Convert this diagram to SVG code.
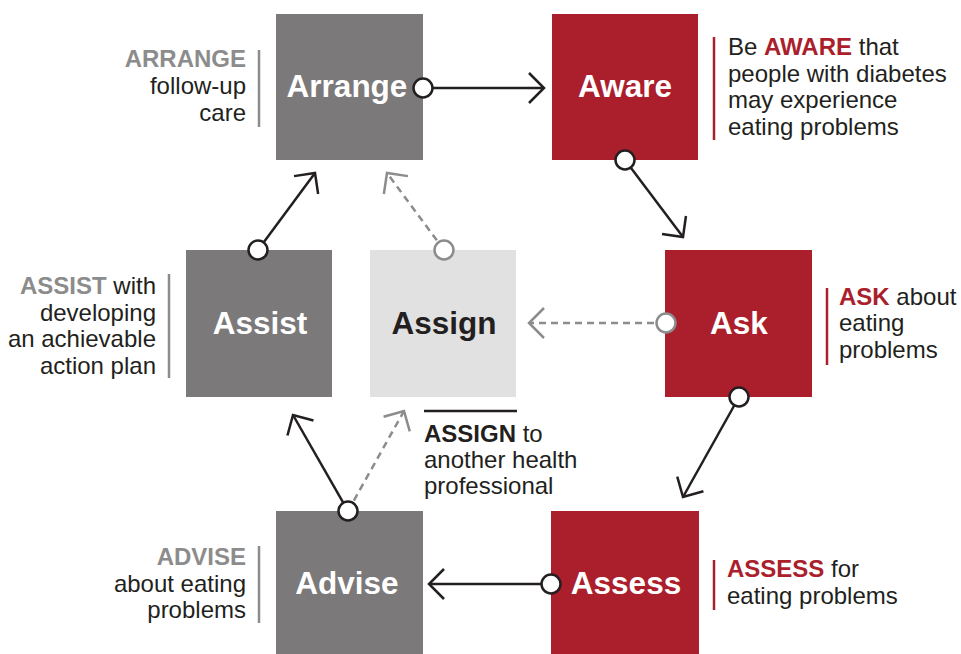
<svg xmlns="http://www.w3.org/2000/svg" width="961" height="654" viewBox="0 0 961 654">
<defs>
<style>
.box-dark{fill:#7b797a}
.box-red{fill:#ab1e2c}
.box-light{fill:#e1e1e1}
.lbl{font-family:"Liberation Sans",Arial,sans-serif;font-weight:bold;font-size:31.5px;text-anchor:middle;fill:#ffffff}
.lbl-dark{fill:#231f20}
.ann{font-family:"Liberation Sans",Arial,sans-serif;font-size:24px;fill:#231f20}
.end{text-anchor:end}
.b-gray{font-weight:bold;fill:#8c8c8c}
.b-red{font-weight:bold;fill:#ab1e2c}
.b-blk{font-weight:bold;fill:#231f20}
.sep-gray{stroke:#8c8c8c;stroke-width:2.5}
.sep-red{stroke:#ab1e2c;stroke-width:2.5}
.solid{stroke:#231f20;stroke-width:2.5;fill:none;marker-end:url(#ah)}
.dash{stroke:#8c8c8c;stroke-width:2.5;fill:none;stroke-dasharray:7 5;marker-end:url(#ahg)}
.dot{fill:#ffffff;stroke:#231f20;stroke-width:2.5}
.dotg{fill:#ffffff;stroke:#8c8c8c;stroke-width:2.5}
</style>
<marker id="ah" markerUnits="userSpaceOnUse" viewBox="-20 -20 24 40" markerWidth="24" markerHeight="40" refX="0" refY="0" orient="auto">
<path d="M-15,-15 L0,0 L-15,15" fill="none" stroke="#231f20" stroke-width="2.5"/>
</marker>
<marker id="ahg" markerUnits="userSpaceOnUse" viewBox="-20 -20 24 40" markerWidth="24" markerHeight="40" refX="0" refY="0" orient="auto">
<path d="M-15,-15 L0,0 L-15,15" fill="none" stroke="#8c8c8c" stroke-width="2.5"/>
</marker>
</defs>
<rect width="961" height="654" fill="#ffffff"/>

<g id="node-arrange">
<rect class="box-dark" x="276" y="14" width="147" height="146"/>
<text class="lbl" x="347" y="97">Arrange</text>
</g>
<g id="node-aware">
<rect class="box-red" x="552" y="14" width="146" height="146"/>
<text class="lbl" x="625" y="97">Aware</text>
</g>
<g id="node-assist">
<rect class="box-dark" x="186" y="250" width="146" height="147"/>
<text class="lbl" x="260" y="334">Assist</text>
</g>
<g id="node-assign">
<rect class="box-light" x="370" y="250" width="146" height="147"/>
<text class="lbl lbl-dark" x="444" y="334">Assign</text>
</g>
<g id="node-ask">
<rect class="box-red" x="665" y="250" width="147" height="147"/>
<text class="lbl" x="739" y="334">Ask</text>
</g>
<g id="node-advise">
<rect class="box-dark" x="276" y="511" width="147" height="146"/>
<text class="lbl" x="347" y="594">Advise</text>
</g>
<g id="node-assess">
<rect class="box-red" x="551" y="511" width="148" height="146"/>
<text class="lbl" x="626" y="594">Assess</text>
</g>

<g id="annotations">
<line class="sep-gray" x1="259" y1="50" x2="259" y2="127"/>
<text class="ann end" x="246" y="67"><tspan class="b-gray">ARRANGE</tspan></text>
<text class="ann end" x="246" y="94">follow-up</text>
<text class="ann end" x="246" y="121">care</text>

<line class="sep-red" x1="714" y1="37" x2="714" y2="140"/>
<text class="ann" x="728" y="55">Be <tspan class="b-red">AWARE</tspan> that</text>
<text class="ann" x="728" y="81.5">people with diabetes</text>
<text class="ann" x="728" y="108">may experience</text>
<text class="ann" x="728" y="134.5">eating problems</text>

<line class="sep-gray" x1="169" y1="274" x2="169" y2="378"/>
<text class="ann end" x="156" y="294"><tspan class="b-gray">ASSIST</tspan> with</text>
<text class="ann end" x="156" y="321">developing</text>
<text class="ann end" x="156" y="347">an achievable</text>
<text class="ann end" x="156" y="374">action plan</text>

<line class="sep-red" x1="827" y1="288" x2="827" y2="365"/>
<text class="ann" x="839" y="305"><tspan class="b-red">ASK</tspan> about</text>
<text class="ann" x="839" y="331">eating</text>
<text class="ann" x="839" y="358">problems</text>

<line x1="424" y1="411" x2="517" y2="411" stroke="#231f20" stroke-width="2.5"/>
<text class="ann" x="424" y="442"><tspan class="b-blk">ASSIGN</tspan> to</text>
<text class="ann" x="424" y="468">another health</text>
<text class="ann" x="424" y="494">professional</text>

<line class="sep-gray" x1="259" y1="546" x2="259" y2="623"/>
<text class="ann end" x="246" y="565"><tspan class="b-gray">ADVISE</tspan></text>
<text class="ann end" x="246" y="592">about eating</text>
<text class="ann end" x="246" y="618">problems</text>

<line class="sep-red" x1="714" y1="560" x2="714" y2="610"/>
<text class="ann" x="727" y="577"><tspan class="b-red">ASSESS</tspan> for</text>
<text class="ann" x="727" y="604">eating problems</text>
</g>

<g id="connectors">
<line class="solid" x1="423" y1="88" x2="544" y2="88"/>
<line class="solid" x1="625" y1="160" x2="683" y2="237"/>
<line class="solid" x1="739" y1="397" x2="683" y2="497"/>
<line class="solid" x1="551" y1="584" x2="429" y2="584"/>
<line class="solid" x1="348" y1="511" x2="293" y2="415"/>
<line class="solid" x1="258" y1="250" x2="315" y2="173"/>
<line class="dash" x1="348" y1="511" x2="404" y2="411"/>
<line class="dash" x1="444" y1="250" x2="387" y2="173"/>
<line class="dash" x1="666" y1="323" x2="529" y2="323"/>
<circle class="dot" cx="423" cy="88" r="9.5"/>
<circle class="dot" cx="625" cy="160" r="9.5"/>
<circle class="dot" cx="739" cy="397" r="9.5"/>
<circle class="dot" cx="551" cy="584" r="9.5"/>
<circle class="dot" cx="348" cy="511" r="9.5"/>
<circle class="dot" cx="258" cy="250" r="9.5"/>
<circle class="dotg" cx="444" cy="250" r="9.5"/>
<circle class="dotg" cx="666" cy="323" r="9.5"/>
</g>
</svg>
